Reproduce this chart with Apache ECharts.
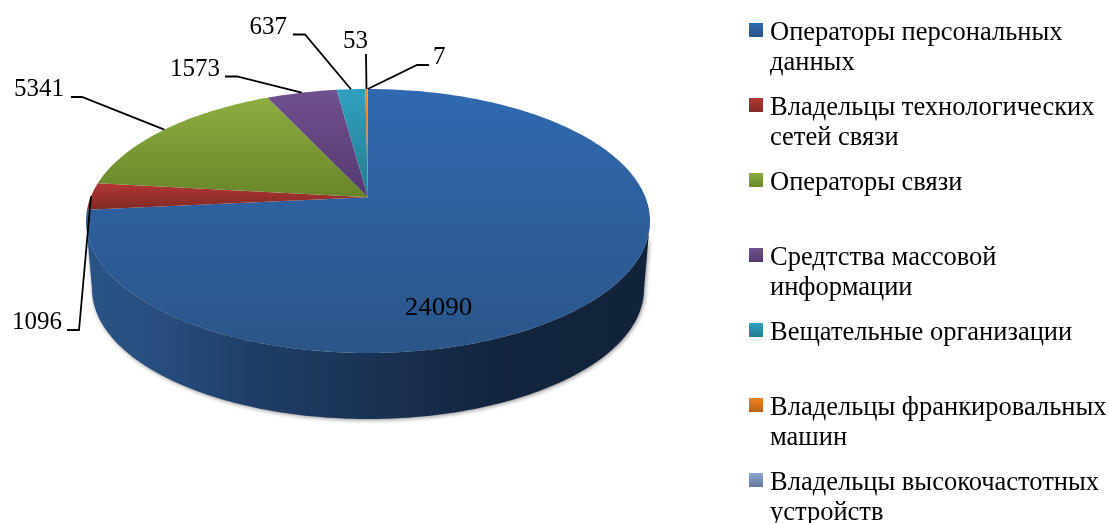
<!DOCTYPE html>
<html>
<head>
<meta charset="utf-8">
<script src="https://cdn.jsdelivr.net/npm/echarts@6/dist/echarts.min.js"></script>
<style>html,body{margin:0;padding:0;background:#fff}#c{width:1109px;height:523px}</style>
</head>
<body>
<div id="c"></div>
<script>
const categories = ['Операторы персональных данных','Владельцы технологических сетей связи','Операторы связи','Средтства массовой информации','Вещательные организации','Владельцы франкировальных машин','Владельцы высокочастотных устройств'];
const legendText = ['Операторы персональных\nданных','Владельцы технологических\nсетей связи','Операторы связи\n ','Средтства массовой\nинформации','Вещательные организации\n ','Владельцы франкировальных\nмашин','Владельцы высокочастотных\nустройств'];
const values = [24090,1096,5341,1573,637,53,7];
const topColors = ['#3069b0','#b53735','#8dae40','#70508f','#30a0bf','#f58420','#8aa6d2'];
const bottomColors = ['#2a5588','#7f2925','#688629','#54396f','#257b90','#b8611a','#64799a'];

const CX=368, CY=221, RX=282, RY=132, TILT=0.18;      // top-face ellipse and perspective
const BCY=289, BRX=276, BRY=130;                      // bottom-face ellipse
const FONT='25px "Liberation Serif"';
// label text anchor, leader elbow points
const labelLayout = [
  {x:438.5,y:308.5,align:'center',sx:1.08},
  {x:62,y:322.5,align:'right',line:[[67,330],[79,330]]},
  {x:64,y:89,align:'right',line:[[71,97],[82,97]]},
  {x:220,y:69,align:'right',line:[[225,76.5],[237,76.5]]},
  {x:287,y:27.5,align:'right',line:[[293,34.5],[305,34.5]]},
  {x:355.5,y:41,align:'center',line:[[366,54]]},
  {x:433,y:57,align:'left',line:[[429,65],[417,65]]}
];
const total = values.reduce((a,b)=>a+b,0);
function project(deg){
  const t=deg*Math.PI/180, u=Math.sin(t), v=Math.cos(t), d=1+TILT*v;
  const X=u*Math.sqrt(1-TILT*TILT)/d, Y=(v+TILT)/d;
  return [CX+RX*X, CY-RY*Y];
}
const apex=[CX, CY-RY*TILT];
function startDeg(i){let s=0;for(let k=0;k<i;k++)s+=values[k];return s/total*360;}
function grad(i){
  const y0 = i===1?183:(i===2?97:89);
  const y1 = i===0?353:(i===1?209:197);
  return {type:'linear',x:0,y:y0,x2:0,y2:y1,global:true,colorStops:[{offset:0,color:topColors[i]},{offset:1,color:bottomColors[i]}]};
}
function sidePoints(){
  const out=[];
  for(let a=180;a>=0;a-=1){const t=a*Math.PI/180;out.push([CX+BRX*Math.cos(t),BCY+BRY*Math.sin(t)]);}
  for(let a=0;a<=180;a+=1){const t=a*Math.PI/180;out.push([CX+RX*Math.cos(t),CY+RY*Math.sin(t)]);}
  return out;
}
function renderSlice(i){
  return function(){
    const children=[];
    if(i===0){
      children.push({type:'polygon',shape:{points:sidePoints()},style:{
        fill:{type:'linear',x:86,y:0,x2:650,y2:0,global:true,colorStops:[
          {offset:0,color:'#2a5486'},{offset:0.15,color:'#264c7c'},{offset:0.3,color:'#1f3d66'},{offset:0.5,color:'#1a3354'},{offset:0.72,color:'#12253e'},{offset:1,color:'#11233a'}]},
        shadowBlur:4,shadowColor:'rgba(0,0,0,0.45)',shadowOffsetX:1,shadowOffsetY:1}});
    }
    const a0=startDeg(i), a1=a0+values[i]/total*360;
    const pts=[apex];
    const n=Math.max(2,Math.ceil(a1-a0));
    for(let k=0;k<=n;k++)pts.push(project(a0+(a1-a0)*k/n));
    children.push({type:'polygon',shape:{points:pts},style:{fill:grad(i)}});
    return {type:'group',children:children};
  };
}
function renderLabel(i){
  return function(){
    const children=[], L=labelLayout[i];
    if(L.line){
      const mid=startDeg(i)+values[i]/total*180;
      const pts=L.line.concat([project(mid)]);
      children.push({type:'polyline',shape:{points:pts},style:{fill:'none',stroke:'#000',lineWidth:1.8}});
    }
    children.push({type:'text',x:L.x,y:L.y,scaleX:L.sx||1,style:{x:0,y:0,text:String(values[i]),font:FONT,fill:'#000',align:L.align,verticalAlign:'middle'}});
    return {type:'group',children:children};
  };
}
const series=[];
categories.forEach((name,i)=>{
  series.push({type:'custom',name:name,coordinateSystem:'none',data:[[values[i]]],renderItem:renderSlice(i),silent:true,z:2,
    itemStyle:{color:{type:'linear',x:0,y:0,x2:0,y2:1,colorStops:[{offset:0,color:topColors[i]},{offset:1,color:bottomColors[i]}]}}});
});
categories.forEach((name,i)=>{
  series.push({type:'custom',name:'label'+i,coordinateSystem:'none',data:[[values[i]]],renderItem:renderLabel(i),silent:true,z:3});
});
const chart=echarts.init(document.getElementById('c'),null,{renderer:'canvas'});
chart.setOption({
  animation:false,
  backgroundColor:'#fff',
  legend:{
    data:categories,orient:'vertical',left:749,top:-18.5,height:1000,padding:0,icon:'rect',itemWidth:14,itemHeight:14,itemGap:-22,
    selectedMode:false,
    formatter:function(n){
      const p=legendText[categories.indexOf(n)].split('\n');
      return '{s| }\n{a|'+p[0]+'}\n{a|'+p[1]+'}';
    },
    textStyle:{fontFamily:'Liberation Serif',fontSize:26.5,color:'#000',lineHeight:30,
      rich:{
        s:{lineHeight:37,fontSize:12,fontFamily:'Liberation Serif'},
        a:{lineHeight:30,fontSize:26.5,fontFamily:'Liberation Serif',color:'#000',padding:[0,0,0,2]}
      }}
  },
  series:series
});
</script>
</body>
</html>
